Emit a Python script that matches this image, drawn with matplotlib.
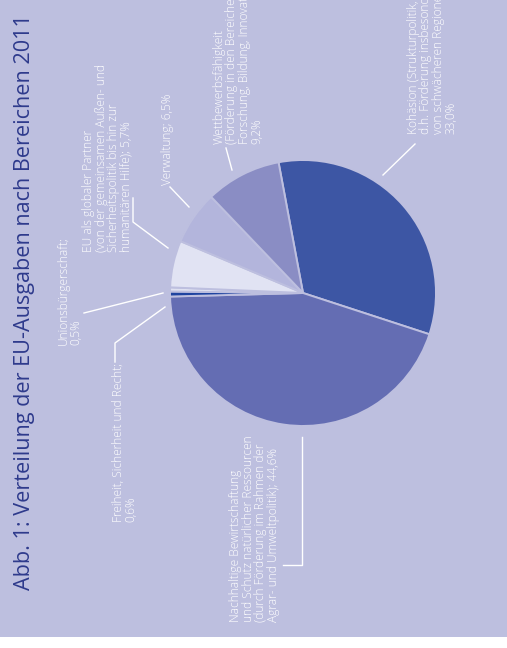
import matplotlib
matplotlib.use("Agg")
import matplotlib.pyplot as plt
from matplotlib.lines import Line2D
from matplotlib.patches import Rectangle

# ---- data ----
categories = [
    "Kohäsion", "Nachhaltige Bewirtschaftung", "Freiheit, Sicherheit und Recht",
    "Unionsbürgerschaft", "EU als globaler Partner", "Verwaltung", "Wettbewerbsfähigkeit",
]
values = [33.0, 44.6, 0.6, 0.5, 5.7, 6.5, 9.2]
labels = [
    "Kohäsion (Strukturpolitik,\nd.h. Förderung insbesondere\nvon schwächeren Regionen);\n33,0%",
    "Nachhaltige Bewirtschaftung\nund Schutz natürlicher Ressourcen\n(durch Förderung im Rahmen der\nAgrar- und Umweltpolitik); 44,6%",
    "Freiheit, Sicherheit und Recht;\n0,6%",
    "Unionsbürgerschaft;\n0,5%",
    "EU als globaler Partner\n(von der gemeinsamen Außen- und\nSicherheitspolitik bis hin zur\nhumanitären Hilfe); 5,7%",
    "Verwaltung; 6,5%",
    "Wettbewerbsfähigkeit\n(Förderung in den Bereichen\nForschung, Bildung, Innovation);\n9,2%",
]
title = "Abb. 1: Verteilung der EU-Ausgaben nach Bereichen 2011"

colors = ["#3d56a4", "#646db3", "#1f44a0", "#dfe1f1", "#e1e3f3", "#b3b5dc", "#8a8dc4"]
bg = "#bdbfdf"

W, H = 507, 648
fig = plt.figure(figsize=(W / 100, H / 100), dpi=100, facecolor=bg)

def fx(x):
    return x / W

def fy(y):
    return 1 - y / H

# white strip at bottom
fig.patches.append(Rectangle((0, 0), 1, 11 / H, transform=fig.transFigure,
                             facecolor="white", edgecolor="none", zorder=0))

# pie axes
cx, cy, r = 303, 293, 133
ax = fig.add_axes([fx(cx - r), fy(cy + r), 2 * r / W, 2 * r / H])
ax.pie(values, colors=colors, startangle=100.6, counterclock=False, radius=1,
       wedgeprops=dict(edgecolor=bg, linewidth=1.4))
ax.set_xlim(-1, 1)
ax.set_ylim(-1, 1)
ax.set_aspect("equal")
ax.axis("off")

# title
fig.text(fx(14), fy(590), title, rotation=90, ha="left", va="bottom",
         fontsize=15.6, color="#2e3a8c", family=["Open Sans", "DejaVu Sans"])

# labels: (left x, bottom y) in pixels
label_pos = [(407, 134), (229, 622), (112, 522), (57, 345), (82, 252), (161, 185), (213, 144)]
for txt, (lx, by) in zip(labels, label_pos):
    fig.text(fx(lx), fy(by), txt, rotation=90, ha="left", va="bottom",
             multialignment="left", fontsize=8.6, color="white", linespacing=0.95,
             family=["Open Sans", "DejaVu Sans"], fontweight="light")

# leader lines (pixel coordinates)
leaders = [
    [(383, 175), (415, 144)],
    [(302, 437), (302, 565), (283, 565)],
    [(115, 362), (115, 343), (165, 307)],
    [(84, 313), (163, 293)],
    [(133, 198), (133, 222), (168, 248)],
    [(170, 187), (189, 207)],
    [(226, 148), (232, 170)],
]
for pts in leaders:
    xs = [fx(p[0]) for p in pts]
    ys = [fy(p[1]) for p in pts]
    fig.add_artist(Line2D(xs, ys, transform=fig.transFigure, color="white", linewidth=1.0))

fig.savefig("out.png", dpi=100, facecolor=bg)
